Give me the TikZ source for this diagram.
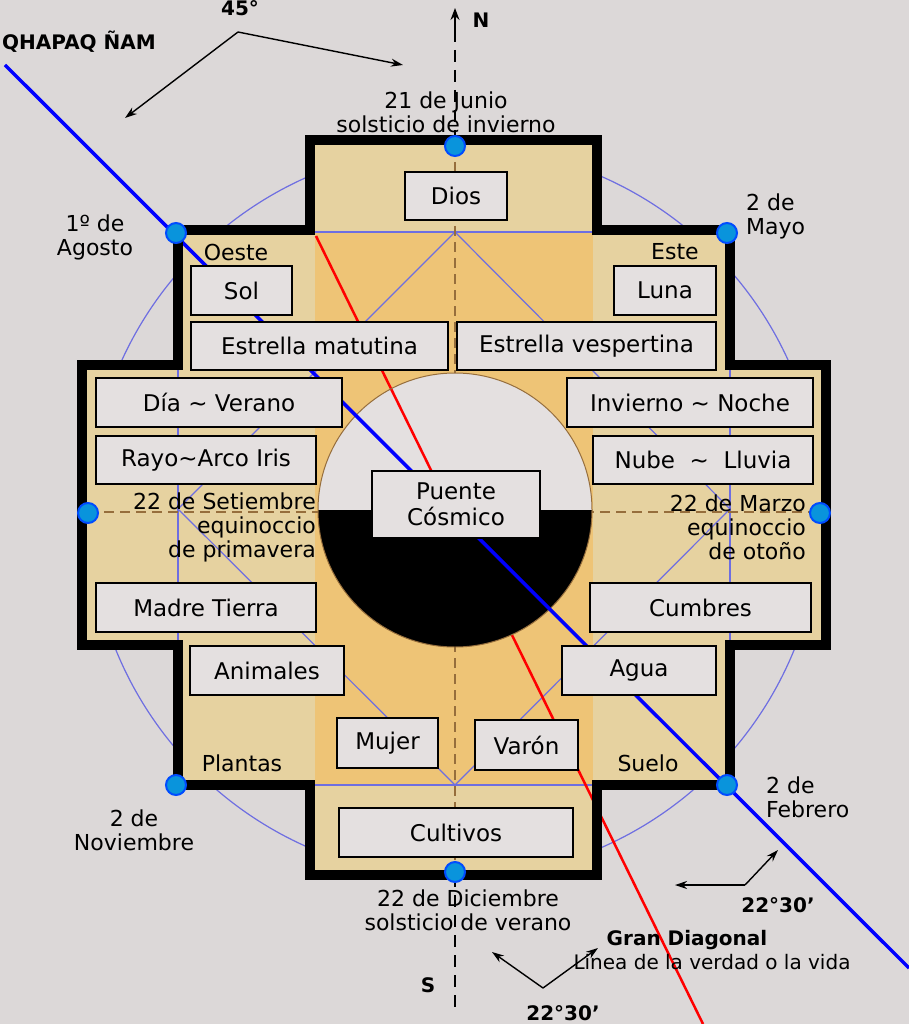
\documentclass[tikz,border=0pt]{standalone}
\usepackage{fontspec}
\setmainfont{DejaVu Sans}
\usetikzlibrary{arrows.meta}
\definecolor{bg}{RGB}{220,216,216}
\definecolor{tan}{RGB}{230,210,160}
\definecolor{org}{RGB}{238,196,118}
\definecolor{boxf}{RGB}{228,224,224}
\definecolor{thinb}{RGB}{110,110,225}
\definecolor{dashc}{RGB}{150,110,60}
\tikzset{
 bx/.style={draw=black,line width=2pt,fill=boxf,inner sep=0pt,font=\fontsize{23}{26}\selectfont},
 lb/.style={font=\fontsize{22}{24}\selectfont,inner sep=0pt,align=center},
 bl/.style={font=\bfseries\fontsize{20}{22}\selectfont,inner sep=0pt},
 thn/.style={thinb,line width=1.2pt},
 dot/.style={circle,fill=cyan!80!blue,draw=blue!70!cyan,line width=2pt,minimum size=20pt,inner sep=0pt},
 arr/.style={line width=1.4pt,-{Stealth[length=12pt,width=8pt]}}
}
\newcommand{\bxn}[6]{\node[bx,minimum width={#4-#2},minimum height={#5-#3}] (#1) at ({(#2+#4)/2},{(#3+#5)/2}) {#6};}
\begin{document}
\begin{tikzpicture}[x=1pt,y=-1pt]
\fill[bg] (0,0) rectangle (909,1024);
\useasboundingbox (0,0) rectangle (909,1024);
% big circle
\draw[thinb,line width=1.2pt] (455,512) circle (366);
% cross fill
\def\cross{(310,140)--(597,140)--(597,230)--(730,230)--(730,365)--(826,365)--(826,645)--(730,645)--(730,785)--(597,785)--(597,875)--(310,875)--(310,785)--(178,785)--(178,645)--(82,645)--(82,365)--(178,365)--(178,230)--(310,230)--cycle}
\fill[tan] \cross;
\fill[org] (315,232) rectangle (593,785);
% thin lines
\draw[thn] (315,232)--(593,232) (315,785)--(593,785);
\draw[thn] (178,365)--(178,645) (730,365)--(730,645);
\draw[thn] (455,232)--(178,509)--(455,785)--(730,509)--cycle;
\draw[dashc,line width=1.5pt,dash pattern=on 10pt off 6pt] (88,512)--(820,512);
\draw[dashc,line width=1.5pt,dash pattern=on 10pt off 6pt] (455,146)--(455,872);
% inner circle
\fill[boxf] (318,510) arc (180:360:137) -- cycle;
\draw[red,line width=2.5pt] (316,236)--(703,1024);
\fill[black] (318,510) arc (180:0:137) -- cycle;
\draw[dashc,line width=1pt] (455,510) circle (137);
% blue diagonal
\draw[blue,line width=3.5pt] (5,65)--(909,968);
% cross outline
\draw[black,line width=10pt,line join=miter] \cross;
% north-south line
\draw[black,line width=1.2pt,dash pattern=on 12pt off 8pt] (455,30)--(455,140) (455,875)--(455,1010);
\draw[black,line width=1.2pt,-{Stealth[length=12pt,width=9pt]}] (455,40)--(455,8);
% dots
\foreach \n/\p in {d1/{(455,146)},d2/{(176,233)},d3/{(727,233)},d4/{(88,513)},d5/{(820,513)},d6/{(176,785)},d7/{(727,785)},d8/{(455,872)}}
  \node[dot] (\n) at \p {};
% boxes
\bxn{dios}{405}{172}{507}{220}{Dios}
\bxn{sol}{191}{266}{292}{315}{Sol}
\bxn{luna}{614}{266}{716}{315}{Luna}
\bxn{em}{191}{322}{448}{370}{Estrella matutina}
\bxn{ev}{457}{322}{716}{370}{Estrella vespertina}
\bxn{dv}{96}{378}{342}{427}{Día \textasciitilde{} Verano}
\bxn{in}{567}{378}{813}{427}{Invierno \textasciitilde{} Noche}
\bxn{ra}{96}{436}{316}{484}{Rayo\textasciitilde{}Arco Iris}
\bxn{nl}{593}{436}{813}{484}{Nube \ \textasciitilde{} \ Lluvia}
\node[bx,minimum width=168pt,minimum height=67pt,align=center] (pc) at (456,504) {Puente\\Cósmico};
\bxn{mt}{96}{583}{316}{632}{Madre Tierra}
\bxn{cu}{590}{583}{811}{632}{Cumbres}
\bxn{an}{190}{646}{344}{695}{Animales}
\bxn{ag}{562}{646}{716}{695}{Agua}
\bxn{mu}{337}{718}{438}{768}{Mujer}
\bxn{va}{475}{720}{578}{770}{Varón}
\bxn{cv}{339}{808}{573}{857}{Cultivos}
% labels
\node[lb] (oe) at (236,252) {Oeste};
\node[lb] (es) at (675,252) {Este};
\node[lb] (pl) at (242,763) {Plantas};
\node[lb] (su) at (648,763) {Suelo};
\node[lb] (jun) at (446,112) {21 de Junio\\solsticio de invierno};
\node[lb] (ago) at (95,237) {1º de\\Agosto};
\node[lb,align=left,anchor=west] (may) at (746,216) {2 de\\Mayo};
\node[lb,align=right,anchor=east] (set) at (316,527) {22 de Setiembre\\equinoccio\\de primavera};
\node[lb,align=right,anchor=east] (mar) at (806,527) {22 de Marzo\\equinoccio\\de otoño};
\node[lb] (nov) at (134,830) {2 de\\Noviembre};
\node[lb,align=left,anchor=west] (feb) at (766,797) {2 de\\Febrero};
\node[lb] (dic) at (468,910) {22 de Diciembre\\solsticio de verano};
\node[bl,anchor=west] (qh) at (2,42) {QHAPAQ ÑAM};
\node[bl] (a45) at (240,8) {45°};
\node[bl] (nn) at (481,20) {N};
\node[bl] (ss) at (428,985) {S};
\node[bl] (a22r) at (778,905) {22°30'};
\node[bl] (gd) at (687,940) {Gran Diagonal};
\node[lb,font=\fontsize{20}{22}\selectfont] (lv) at (712,962) {Linea de la verdad o la vida};
\node[bl] (a22b) at (563,1013) {22°30'};
% angle arrows
\coordinate (v1) at (238,32);
\draw[arr] (v1)--(403,65);
\draw[arr] (v1)--(125,118);
\coordinate (v2) at (745,885);
\draw[arr] (v2)--(778,850);
\draw[arr] (v2)--(675,885);
\coordinate (v3) at (543,988);
\draw[arr] (v3)--(492,952);
\draw[arr] (v3)--(598,948);
\end{tikzpicture}
\end{document}
